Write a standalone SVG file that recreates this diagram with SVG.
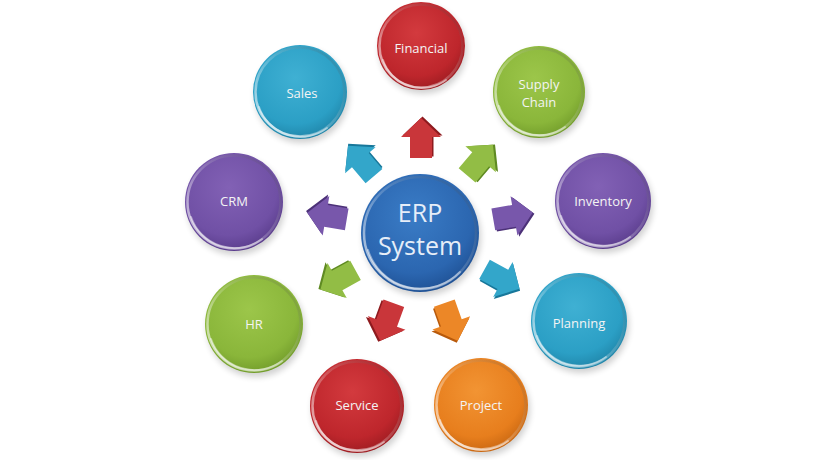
<svg xmlns="http://www.w3.org/2000/svg" xmlns:xlink="http://www.w3.org/1999/xlink" width="840" height="460" viewBox="0 0 840 460">
<defs>
<style>
.lbl{font-family:"Open Sans","Noto Sans","Liberation Sans",sans-serif;font-size:13px;fill:#F4F4F4;text-anchor:middle;dominant-baseline:central}
.big{font-family:"Open Sans","Noto Sans","Liberation Sans",sans-serif;font-size:25px;fill:#E6EEF8;text-anchor:middle}
.rim{fill:none;stroke:url(#rimG);stroke-width:2.5}
.gloss{fill:none;stroke:#FFFFFF;stroke-opacity:0.45;stroke-width:2;stroke-linecap:round}
.shade{fill:#000;opacity:0.18;filter:url(#blur)}
</style>
<filter id="blur" x="-30%" y="-30%" width="160%" height="160%"><feGaussianBlur stdDeviation="3"/></filter>
<linearGradient id="rimG" x1="0" y1="1" x2="1" y2="0">
<stop offset="0" stop-color="#FFFFFF" stop-opacity="0.8"/>
<stop offset="0.5" stop-color="#FFFFFF" stop-opacity="0.2"/>
<stop offset="1" stop-color="#000000" stop-opacity="0.15"/>
</linearGradient>
<radialGradient id="gRed" cx="0.45" cy="0.35" r="0.7"><stop offset="0" stop-color="#D33A3E"/><stop offset="0.7" stop-color="#BE262C"/><stop offset="1" stop-color="#961A1F"/></radialGradient>
<radialGradient id="gGreen" cx="0.45" cy="0.35" r="0.7"><stop offset="0" stop-color="#9CC64A"/><stop offset="0.7" stop-color="#8AB63A"/><stop offset="1" stop-color="#6C9627"/></radialGradient>
<radialGradient id="gPurple" cx="0.45" cy="0.35" r="0.7"><stop offset="0" stop-color="#8261B5"/><stop offset="0.7" stop-color="#7050A5"/><stop offset="1" stop-color="#553886"/></radialGradient>
<radialGradient id="gTeal" cx="0.45" cy="0.35" r="0.7"><stop offset="0" stop-color="#3FB0D3"/><stop offset="0.7" stop-color="#2B9FC5"/><stop offset="1" stop-color="#1D7FA2"/></radialGradient>
<radialGradient id="gOrange" cx="0.45" cy="0.35" r="0.7"><stop offset="0" stop-color="#F29433"/><stop offset="0.7" stop-color="#E77E1D"/><stop offset="1" stop-color="#C2620F"/></radialGradient>
<radialGradient id="gBlue" cx="0.45" cy="0.35" r="0.7"><stop offset="0" stop-color="#3A7CC6"/><stop offset="0.7" stop-color="#2B66B0"/><stop offset="1" stop-color="#1C4C8E"/></radialGradient>
<path id="arr" d="M-20,-11 L1,-11 L1,-20 L20,0 L1,20 L1,11 L-20,11 Z"/>
</defs>
<rect width="840" height="460" fill="#FFFFFF"/>

<g id="connectors">
<g transform="translate(421,138) rotate(-90)"><use xlink:href="#arr" fill="#8E1A1E" transform="translate(1.5,1.5)"/><use xlink:href="#arr" fill="#C9363A"/></g>
<g transform="translate(480,160) rotate(-49.8)"><use xlink:href="#arr" fill="#5F8A22" transform="translate(1.5,1.5)"/><use xlink:href="#arr" fill="#92BD45"/></g>
<g transform="translate(513,216) rotate(-9.9)"><use xlink:href="#arr" fill="#4C3178" transform="translate(1.5,1.5)"/><use xlink:href="#arr" fill="#7857AB"/></g>
<g transform="translate(502,279) rotate(29)"><use xlink:href="#arr" fill="#17779A" transform="translate(1.5,1.5)"/><use xlink:href="#arr" fill="#33A6CA"/></g>
<g transform="translate(451,322) rotate(70.5)"><use xlink:href="#arr" fill="#B85A0C" transform="translate(1.5,1.5)"/><use xlink:href="#arr" fill="#EC8727"/></g>
<g transform="translate(387,322) rotate(110)"><use xlink:href="#arr" fill="#8E1A1E" transform="translate(1.5,1.5)"/><use xlink:href="#arr" fill="#C9363A"/></g>
<g transform="translate(338,280) rotate(151.3)"><use xlink:href="#arr" fill="#5F8A22" transform="translate(1.5,1.5)"/><use xlink:href="#arr" fill="#92BD45"/></g>
<g transform="translate(327,216) rotate(189.5)"><use xlink:href="#arr" fill="#4C3178" transform="translate(1.5,1.5)"/><use xlink:href="#arr" fill="#7857AB"/></g>
<g transform="translate(361,161) rotate(-130.4)"><use xlink:href="#arr" fill="#17779A" transform="translate(1.5,1.5)"/><use xlink:href="#arr" fill="#33A6CA"/></g>
</g>

<g id="erp">
<circle cx="422" cy="237" r="59" class="shade"/>
<circle cx="420" cy="233" r="59" fill="url(#gBlue)"/>
<circle cx="420" cy="233" r="56" class="rim"/>
<path d="M368,250 A55,55 0 0 0 460,272" class="gloss"/>
<text x="420" y="222" class="big">ERP</text>
<text x="420" y="255" class="big">System</text>
</g>

<g id="financial">
<circle cx="423" cy="50" r="44" class="shade"/>
<circle cx="421" cy="46" r="44" fill="url(#gRed)"/>
<circle cx="421" cy="46" r="41.5" class="rim"/>
<path d="M383,60 A41,41 0 0 0 446,80" class="gloss"/>
<text x="421" y="48" class="lbl">Financial</text>
</g>

<g id="supply-chain">
<circle cx="541" cy="96" r="46" class="shade"/>
<circle cx="539" cy="92" r="46" fill="url(#gGreen)"/>
<circle cx="539" cy="92" r="43.5" class="rim"/>
<path d="M499,106 A43,43 0 0 0 565,127" class="gloss"/>
<text x="539" y="84" class="lbl">Supply</text>
<text x="539" y="102" class="lbl">Chain</text>
</g>

<g id="inventory">
<circle cx="605" cy="205" r="48" class="shade"/>
<circle cx="603" cy="201" r="48" fill="url(#gPurple)"/>
<circle cx="603" cy="201" r="45.5" class="rim"/>
<path d="M561,216 A45,45 0 0 0 630,237" class="gloss"/>
<text x="603" y="201" class="lbl">Inventory</text>
</g>

<g id="planning">
<circle cx="581" cy="325" r="48" class="shade"/>
<circle cx="579" cy="321" r="48" fill="url(#gTeal)"/>
<circle cx="579" cy="321" r="45.5" class="rim"/>
<path d="M537,336 A45,45 0 0 0 606,357" class="gloss"/>
<text x="579" y="323" class="lbl">Planning</text>
</g>

<g id="project">
<circle cx="483" cy="409" r="47" class="shade"/>
<circle cx="481" cy="405" r="47" fill="url(#gOrange)"/>
<circle cx="481" cy="405" r="44.5" class="rim"/>
<path d="M440,420 A44,44 0 0 0 508,441" class="gloss"/>
<text x="481" y="405" class="lbl">Project</text>
</g>

<g id="service">
<circle cx="359" cy="410" r="47" class="shade"/>
<circle cx="357" cy="406" r="47" fill="url(#gRed)"/>
<circle cx="357" cy="406" r="44.5" class="rim"/>
<path d="M316,421 A44,44 0 0 0 384,442" class="gloss"/>
<text x="357" y="405" class="lbl">Service</text>
</g>

<g id="hr">
<circle cx="256" cy="328" r="49" class="shade"/>
<circle cx="254" cy="324" r="49" fill="url(#gGreen)"/>
<circle cx="254" cy="324" r="46.5" class="rim"/>
<path d="M211,339 A46,46 0 0 0 282,361" class="gloss"/>
<text x="254" y="324" class="lbl">HR</text>
</g>

<g id="crm">
<circle cx="236" cy="206" r="49" class="shade"/>
<circle cx="234" cy="202" r="49" fill="url(#gPurple)"/>
<circle cx="234" cy="202" r="46.5" class="rim"/>
<path d="M191,217 A46,46 0 0 0 262,239" class="gloss"/>
<text x="234" y="201" class="lbl">CRM</text>
</g>

<g id="sales">
<circle cx="302" cy="96" r="47" class="shade"/>
<circle cx="300" cy="92" r="47" fill="url(#gTeal)"/>
<circle cx="300" cy="92" r="44.5" class="rim"/>
<path d="M259,107 A44,44 0 0 0 327,128" class="gloss"/>
<text x="302" y="93" class="lbl">Sales</text>
</g>
</svg>
